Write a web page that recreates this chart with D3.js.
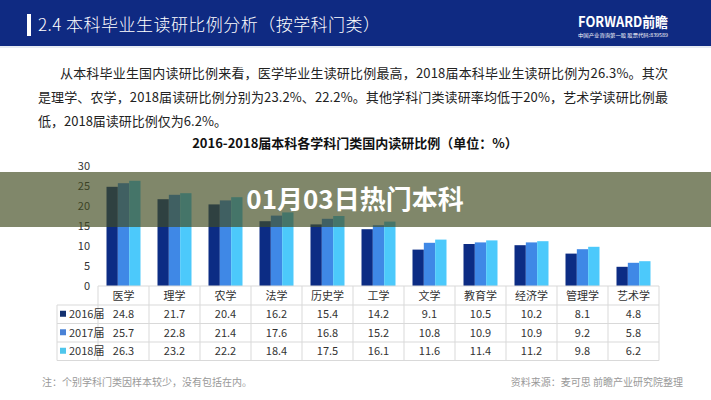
<!DOCTYPE html>
<html><head><meta charset="utf-8">
<script src="https://cdn.jsdelivr.net/npm/d3@7/dist/d3.min.js"></script>
<style>
html,body{margin:0;padding:0;background:#fff;}
svg{display:block;font-family:"Noto Sans CJK SC","Noto Sans",sans-serif;}
</style></head>
<body>
<svg id="c" width="711" height="400"></svg>
<script>
const categories = ["医学","理学","农学","法学","历史学","工学","文学","教育学","经济学","管理学","艺术学"];
const seriesNames = ["2016届","2017届","2018届"];
const v2016 = [24.8,21.7,20.4,16.2,15.4,14.2,9.1,10.5,10.2,8.1,4.8];
const v2017 = [25.7,22.8,21.4,17.6,16.8,15.2,10.8,10.9,10.9,9.2,5.8];
const v2018 = [26.3,23.2,22.2,18.4,17.5,16.1,11.6,11.4,11.2,9.8,6.2];
const yTicks = [0,5,10,15,20,25,30];
const seriesValues = [v2016, v2017, v2018];
const colors = ["#0c2c84","#3f88e6","#4cc9fb"];
const legendColors = ["#13306f","#4a82d6","#4fc6ec"];

const svg = d3.select("#c");
const font = '"Noto Sans CJK SC","Noto Sans",sans-serif';

// header
svg.append("rect").attr("x",0).attr("y",0).attr("width",711).attr("height",46).attr("fill","#0f2a82");
svg.append("rect").attr("x",0).attr("y",46).attr("width",711).attr("height",2).attr("fill","#e6ebf3");
svg.append("rect").attr("x",27).attr("y",14).attr("width",4).attr("height",22).attr("fill","#fff");
svg.append("text").attr("x",38).attr("y",31).attr("fill","#fff").attr("font-size",17).attr("font-weight",300)
  .attr("textLength",342).attr("lengthAdjust","spacing")
  .text("2.4 本科毕业生读研比例分析（按学科门类）");
svg.append("text").attr("x",578).attr("y",27).attr("fill","#fff").attr("font-size",14).attr("font-weight","bold")
  .attr("textLength",90).attr("lengthAdjust","spacingAndGlyphs").text("FORWARD前瞻");
svg.append("text").attr("x",578).attr("y",37).attr("fill","#fff").attr("font-size",5)
  .attr("textLength",90).attr("lengthAdjust","spacingAndGlyphs").text("中国产业咨询第一股  股票代码:839589");

// paragraph
const para = [
  {x:60, y:78, w:608, t:"从本科毕业生国内读研比例来看，医学毕业生读研比例最高，2018届本科毕业生读研比例为26.3%。其次"},
  {x:38, y:102, w:630, t:"是理学、农学，2018届读研比例分别为23.2%、22.2%。其他学科门类读研率均低于20%，艺术学读研比例最"},
  {x:38, y:126, w:null, t:"低，2018届读研比例仅为6.2%。"}
];
para.forEach(p=>{
  const t = svg.append("text").attr("x",p.x).attr("y",p.y).attr("fill","#222").attr("font-size",13).text(p.t);
  if(p.w) t.attr("textLength",p.w).attr("lengthAdjust","spacing");
});

// chart title
svg.append("text").attr("x",355).attr("y",148).attr("text-anchor","middle").attr("fill","#111")
  .attr("font-size",13).attr("font-weight","bold").text("2016-2018届本科各学科门类国内读研比例（单位：%）");

// scales
const x0 = d3.scaleBand().domain(categories).range([98,659]).paddingInner(0).paddingOuter(0);
const bw = x0.bandwidth();
const x1 = d3.scaleBand().domain(seriesNames).range([bw/6, bw*5/6]).padding(0);
const y = d3.scaleLinear().domain([0,30]).range([286,166]);

// y axis
const ya = svg.append("g").attr("transform","translate(92,0)")
  .call(d3.axisLeft(y).tickValues(yTicks).tickSize(0).tickPadding(2));
ya.select(".domain").remove();
ya.selectAll("text").attr("font-size",11).attr("fill","#333").attr("font-family",font);

// bars
const groups = svg.append("g").selectAll("g").data(categories).join("g")
  .attr("transform",d=>`translate(${x0(d)},0)`);
groups.selectAll("rect").data((d,i)=>seriesNames.map((s,j)=>({s, v:seriesValues[j][i], j})))
  .join("rect")
  .attr("x",d=>x1(d.s)).attr("width",x1.bandwidth())
  .attr("y",d=>y(d.v)).attr("height",d=>y(0)-y(d.v))
  .attr("fill",d=>colors[d.j]);

// table
const rowTop = [286,305,323.5,342,360.5];
const lc = "#d9d9d9";
const tbl = svg.append("g");
tbl.append("line").attr("x1",98).attr("x2",659).attr("y1",286).attr("y2",286).attr("stroke",lc);
rowTop.slice(1).forEach(yy=>{
  tbl.append("line").attr("x1",57).attr("x2",659).attr("y1",yy).attr("y2",yy).attr("stroke",lc);
});
tbl.append("line").attr("x1",57).attr("x2",57).attr("y1",305).attr("y2",360.5).attr("stroke",lc);
categories.forEach(c=>{
  tbl.append("line").attr("x1",x0(c)).attr("x2",x0(c)).attr("y1",286).attr("y2",360.5).attr("stroke",lc);
});
tbl.append("line").attr("x1",659).attr("x2",659).attr("y1",286).attr("y2",360.5).attr("stroke",lc);
categories.forEach(c=>{
  tbl.append("text").attr("x",x0(c)+bw/2).attr("y",299.5).attr("text-anchor","middle")
    .attr("font-size",11).attr("fill","#333").text(c);
});
seriesNames.forEach((s,j)=>{
  const cy = (rowTop[j+1]+rowTop[j+2])/2;
  tbl.append("rect").attr("x",60).attr("y",cy-3.5).attr("width",6).attr("height",6).attr("fill",legendColors[j]);
  tbl.append("text").attr("x",69).attr("y",cy+4).attr("font-size",11).attr("fill","#333").text(s);
  categories.forEach((c,i)=>{
    tbl.append("text").attr("x",x0(c)+bw/2).attr("y",cy+4).attr("text-anchor","middle")
      .attr("font-size",11).attr("fill","#333").text(seriesValues[j][i].toFixed(1));
  });
});

// footnotes
svg.append("text").attr("x",42).attr("y",386).attr("font-size",10).attr("fill","#999")
  .text("注：个别学科门类因样本较少，没有包括在内。");
svg.append("text").attr("x",683).attr("y",386).attr("text-anchor","end").attr("font-size",10).attr("fill","#999")
  .text("资料来源：麦可思 前瞻产业研究院整理");

// overlay banner
svg.append("rect").attr("x",0).attr("y",172).attr("width",711).attr("height",55)
  .attr("fill","rgb(66,76,33)").attr("fill-opacity",0.67);
svg.append("text").attr("x",355).attr("y",209).attr("text-anchor","middle").attr("fill","#fff")
  .attr("font-size",26).attr("font-weight","bold").text("01月03日热门本科");
</script>
</body></html>
